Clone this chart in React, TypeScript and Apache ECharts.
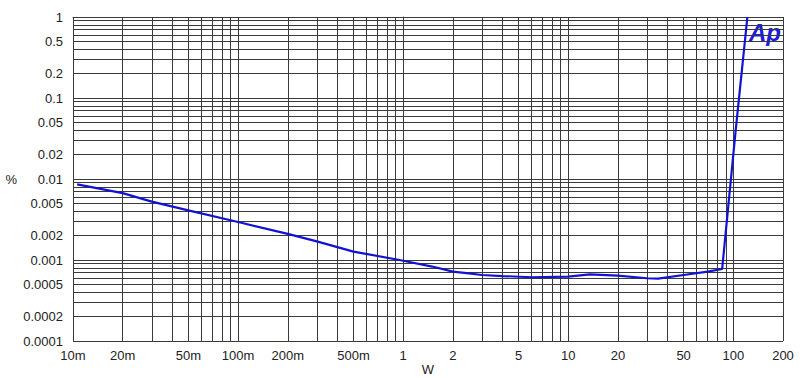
import React, { useEffect, useRef } from "react";
import * as echarts from "echarts";

// THD+N (%) vs output power (W)
const powerW = [0.0106, 0.02, 0.03, 0.05, 0.103, 0.2, 0.3, 0.5, 0.95, 1.5, 2, 2.5, 3, 4, 6, 10, 13.5, 20, 30, 35, 50, 70, 85.6, 103, 121.7];
const thdPct = [0.0086, 0.0067, 0.00525, 0.0041, 0.0029, 0.0021, 0.0017, 0.00127, 0.001, 0.00083, 0.00072, 0.000685, 0.000653, 0.000634, 0.000612, 0.000625, 0.000665, 0.00064, 0.000595, 0.000589, 0.000653, 0.00072, 0.000775, 0.037, 1];

const xTickValues = [0.01, 0.02, 0.05, 0.1, 0.2, 0.5, 1, 2, 5, 10, 20, 50, 100, 200];
const xTickLabels = ["10m", "20m", "50m", "100m", "200m", "500m", "1", "2", "5", "10", "20", "50", "100", "200"];
const yTickValues = [0.0001, 0.0002, 0.0005, 0.001, 0.002, 0.005, 0.01, 0.02, 0.05, 0.1, 0.2, 0.5, 1];
const yTickLabels = ["0.0001", "0.0002", "0.0005", "0.001", "0.002", "0.005", "0.01", "0.02", "0.05", "0.1", "0.2", "0.5", "1"];

const xMin = 0.01;
const xMax = 200;
const yMin = 0.0001;
const yMax = 1;

function logGrid(min: number, max: number): number[] {
  const out: number[] = [];
  for (let e = Math.round(Math.log10(min)); Math.pow(10, e) <= max * 1.0001; e++) {
    for (let m = 1; m <= 9; m++) {
      const v = m * Math.pow(10, e);
      if (v >= min * 0.9999 && v <= max * 1.0001) out.push(Math.log10(v));
    }
  }
  return out;
}

function labelFor(values: number[], labels: string[]) {
  return (v: number) => {
    for (let i = 0; i < values.length; i++) {
      if (Math.abs(Math.log10(values[i]) - v) < 1e-6) return labels[i];
    }
    return "";
  };
}

export default function App() {
  const ref = useRef<HTMLDivElement>(null);
  useEffect(() => {
    if (!ref.current) return;
    const chart = echarts.init(ref.current, undefined, { renderer: "svg" });
    const font = "Liberation Sans, Arial, sans-serif";
    const gridLine = { show: true, lineStyle: { color: "#3a3a3a", width: 1, type: "solid" as const } };
    chart.setOption({
      animation: false,
      backgroundColor: "#ffffff",
      grid: { left: 73, right: 17, top: 17, bottom: 37, containLabel: false, outerBoundsMode: "none" },
      xAxis: {
        type: "value",
        min: Math.log10(xMin),
        max: Math.log10(xMax),
        name: "W",
        nameLocation: "middle",
        nameGap: 22,
        nameMoveOverlap: false,
        nameTextStyle: { fontFamily: font, fontSize: 13, lineHeight: 13, color: "#222" },
        axisLine: { show: true, lineStyle: { color: "#3a3a3a", width: 1 } },
        axisTick: { show: false, customValues: logGrid(xMin, xMax) },
        splitLine: gridLine,
        axisLabel: {
          customValues: xTickValues.map((v) => Math.log10(v)),
          formatter: labelFor(xTickValues, xTickLabels),
          fontFamily: font,
          fontSize: 13,
          color: "#222",
          margin: 8,
          showMinLabel: true,
          showMaxLabel: true,
        },
      },
      yAxis: {
        type: "value",
        min: Math.log10(yMin),
        max: Math.log10(yMax),
        name: "%",
        nameLocation: "middle",
        nameRotate: 0,
        nameGap: 56,
        nameMoveOverlap: false,
        nameTextStyle: { fontFamily: font, fontSize: 13, color: "#222" },
        axisLine: { show: true, lineStyle: { color: "#3a3a3a", width: 1 } },
        axisTick: { show: false, customValues: logGrid(yMin, yMax) },
        splitLine: gridLine,
        axisLabel: {
          customValues: yTickValues.map((v) => Math.log10(v)),
          formatter: labelFor(yTickValues, yTickLabels),
          fontFamily: font,
          fontSize: 13,
          color: "#222",
          margin: 10,
          showMinLabel: true,
          showMaxLabel: true,
        },
      },
      graphic: [
        {
          type: "text",
          right: 19,
          top: 20,
          style: {
            text: "Ap",
            fontFamily: font,
            fontSize: 24,
            fontWeight: "bold",
            fontStyle: "italic",
            fill: "#1a1ae0",
          },
        },
      ],
      series: [
        {
          type: "line",
          data: powerW.map((w, i) => [Math.log10(w), Math.log10(thdPct[i])]),
          showSymbol: false,
          smooth: false,
          clip: true,
          lineStyle: { color: "#1212d4", width: 2.2 },
        },
      ],
    });
    return () => chart.dispose();
  }, []);
  return <div ref={ref} style={{ width: 800, height: 378, position: "absolute", left: 0, top: 0 }} />;
}
